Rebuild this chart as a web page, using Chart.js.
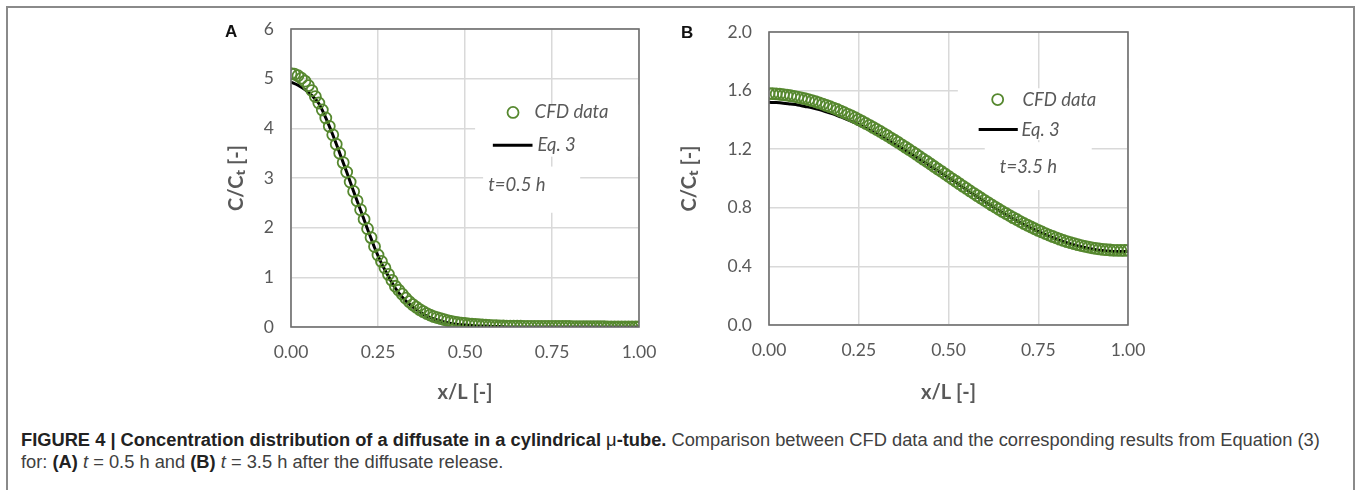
<!DOCTYPE html>
<html>
<head>
<meta charset="utf-8">
<script src="https://cdn.jsdelivr.net/npm/chart.js@4.4.1/dist/chart.umd.min.js"></script>
<style>
  html, body { margin: 0; padding: 0; background: #fff; }
  body { width: 1357px; height: 490px; position: relative; overflow: hidden; }
  #frame { position: absolute; left: 6px; top: 6px; width: 1349px; height: 600px; border: 2px solid #8a8a8a; box-sizing: border-box; }
  .panel { position: absolute; top: 0; height: 410px; }
  #pA { left: 200px; width: 460px; }
  #pB { left: 660px; width: 490px; }
  .tag { position: absolute; font: bold 17px "Liberation Sans", Arial, sans-serif; color: #111; }
  #caption { position: absolute; left: 21px; top: 429px; font: 18.3px/22px "Liberation Sans", Arial, sans-serif; color: #404040; white-space: nowrap; }
  #caption b { color: #222; }
</style>
</head>
<body>
<div id="frame"></div>
<div class="panel" id="pA"><canvas id="cA"></canvas></div>
<div class="panel" id="pB"><canvas id="cB"></canvas></div>
<div class="tag" style="left:225px;top:22px;">A</div>
<div class="tag" style="left:681px;top:23px;">B</div>
<div id="caption"><b>FIGURE 4 | Concentration distribution of a diffusate in a cylindrical <span style="font-weight:normal">μ</span>-tube.</b> Comparison between CFD data and the corresponding results from Equation (3)<br>for: <b>(A)</b> <i>t</i> = 0.5 h and <b>(B)</b> <i>t</i> = 3.5 h after the diffusate release.</div>
<script>
// ---- data ----
const xCFD = [0,0.01,0.02,0.03,0.04,0.05,0.06,0.07,0.08,0.09,
  0.10,0.11,0.12,0.13,0.14,0.15,0.16,0.17,0.18,0.19,
  0.20,0.21,0.22,0.23,0.24,0.25,0.26,0.27,0.28,0.29,
  0.30,0.31,0.32,0.33,0.34,0.35,0.36,0.37,0.38,0.39,
  0.40,0.41,0.42,0.43,0.44,0.45,0.46,0.47,0.48,0.49,
  0.50,0.51,0.52,0.53,0.54,0.55,0.56,0.57,0.58,0.59,
  0.60,0.61,0.62,0.63,0.64,0.65,0.66,0.67,0.68,0.69,
  0.70,0.71,0.72,0.73,0.74,0.75,0.76,0.77,0.78,0.79,
  0.80,0.81,0.82,0.83,0.84,0.85,0.86,0.87,0.88,0.89,
  0.90,0.91,0.92,0.93,0.94,0.95,0.96,0.97,0.98,0.99,1.00];
const cfdA = [5.10,5.09,5.06,5.01,4.95,4.86,4.76,4.64,4.51,4.37,
  4.21,4.04,3.87,3.68,3.50,3.31,3.12,2.92,2.73,2.54,
  2.36,2.17,1.98,1.80,1.62,1.45,1.32,1.19,1.06,0.94,
  0.82,0.74,0.66,0.58,0.51,0.45,0.40,0.35,0.31,0.27,
  0.24,0.21,0.19,0.17,0.15,0.13,0.115,0.10,0.09,0.08,
  0.07,0.06,0.055,0.05,0.045,0.04,0.035,0.03,0.028,0.025,
  0.02,0.02,0.019,0.018,0.017,0.016,0.015,0.014,0.013,0.012,
  0.011,0.01,0.01,0.01,0.01,0.01,0.01,0.01,0.01,0.01,
  0.01,0.005,0.005,0.005,0.005,0.005,0.005,0.005,0.005,0.005,
  0.005,0,0,0,0,0,0,0,0,0,0];
const cfdB = [1.580,1.579,1.577,1.575,1.572,1.569,1.565,1.561,1.556,1.550,
  1.545,1.538,1.531,1.524,1.516,1.508,1.499,1.490,1.481,1.471,
  1.460,1.449,1.438,1.427,1.415,1.402,1.389,1.376,1.363,1.349,
  1.335,1.321,1.306,1.292,1.276,1.261,1.246,1.230,1.214,1.198,
  1.182,1.166,1.149,1.132,1.116,1.099,1.082,1.065,1.049,1.032,
  1.015,0.998,0.982,0.965,0.948,0.932,0.915,0.899,0.883,0.867,
  0.851,0.836,0.820,0.805,0.790,0.775,0.761,0.747,0.733,0.720,
  0.706,0.693,0.681,0.669,0.657,0.646,0.635,0.624,0.614,0.604,
  0.595,0.586,0.577,0.569,0.562,0.555,0.548,0.542,0.537,0.532,
  0.527,0.523,0.519,0.516,0.514,0.512,0.510,0.510,0.509,0.509,0.510];
const xEq = [0,0.02,0.04,0.06,0.08,0.10,0.12,0.14,0.16,0.18,
  0.20,0.22,0.24,0.26,0.28,0.30,0.32,0.34,0.36,0.38,
  0.40,0.42,0.44,0.46,0.48,0.50,0.52,0.54,0.56,0.58,
  0.60,0.62,0.64,0.66,0.68,0.70,0.72,0.74,0.76,0.78,
  0.80,0.82,0.84,0.86,0.88,0.90,0.92,0.94,0.96,0.98,1.00];
const eqA = [4.93,4.87,4.78,4.66,4.50,4.21,3.87,3.50,3.12,2.73,
  2.35,1.97,1.60,1.28,1.02,0.78,0.60,0.46,0.35,0.26,
  0.19,0.14,0.10,0.07,0.05,0.04,0.03,0.02,0.02,0.01,
  0.01,0,0,0,0,0,0,0,0,0,
  0,0,0,0,0,0,0,0,0,0,0];
const eqB = [1.520,1.518,1.514,1.508,1.502,1.492,1.482,1.470,1.455,1.439,
  1.420,1.400,1.379,1.355,1.331,1.305,1.278,1.250,1.222,1.192,
  1.162,1.131,1.100,1.068,1.037,1.005,0.974,0.940,0.907,0.875,
  0.843,0.812,0.782,0.753,0.725,0.698,0.673,0.649,0.627,0.606,
  0.587,0.569,0.554,0.540,0.529,0.519,0.511,0.506,0.502,0.501,0.502];
const xTicks = [0, 0.25, 0.5, 0.75, 1];
const yTicksA = [0, 1, 2, 3, 4, 5, 6];
const yTicksB = [0, 0.4, 0.8, 1.2, 1.6, 2.0];
const seriesNames = ['CFD data', 'Eq. 3'];
const timeLabels = ['t=0.5 h', 't=3.5 h'];

// ---- styles ----
const GREEN = '#56882f';
const GREY = '#595959';
const GRID = '#d9d9d9';
const TICKFONT = { family: 'Lato, "Open Sans", sans-serif', size: 17.5 };
const TITLEFONT = { family: 'Lato, "Open Sans", sans-serif', size: 20, weight: 'bold' };

const overlay = {
  id: 'overlay',
  beforeDatasetsDraw(chart, args, o) {
    const {ctx, scales: {x, y}} = chart;
    ctx.save();
    ctx.fillStyle = '#fff';
    for (const b of [o.legendBox, o.timeBox]) {
      const x0 = x.getPixelForValue(b[0]), x1 = x.getPixelForValue(b[1]);
      const y0 = y.getPixelForValue(b[2]), y1 = y.getPixelForValue(b[3]);
      ctx.fillRect(x0, y0, x1 - x0, y1 - y0);
    }
    ctx.restore();
  },
  afterDatasetsDraw(chart, args, o) {
    const {ctx, chartArea: a, scales: {x, y}} = chart;
    const ds = chart.data.datasets;
    ctx.save();
    ctx.strokeStyle = '#6e6e6e';
    ctx.lineWidth = 1.6;
    ctx.strokeRect(a.left, a.top, a.right - a.left, a.bottom - a.top);
    const mx = x.getPixelForValue(o.marker[0]), my = y.getPixelForValue(o.marker[1]);
    ctx.beginPath();
    ctx.arc(mx, my, ds[0].pointRadius, 0, Math.PI * 2);
    ctx.strokeStyle = ds[0].borderColor;
    ctx.lineWidth = ds[0].borderWidth;
    ctx.stroke();
    const lx0 = x.getPixelForValue(o.line[0]), lx1 = x.getPixelForValue(o.line[1]), ly = y.getPixelForValue(o.line[2]);
    ctx.beginPath();
    ctx.moveTo(lx0, ly); ctx.lineTo(lx1, ly);
    ctx.strokeStyle = ds[1].borderColor;
    ctx.lineWidth = ds[1].borderWidth;
    ctx.stroke();
    ctx.fillStyle = GREY;
    ctx.font = 'italic 18.5px Lato, "Open Sans", sans-serif';
    ctx.textBaseline = 'middle';
    ctx.textAlign = 'left';
    ctx.fillText(ds[0].label, x.getPixelForValue(o.text1[0]), y.getPixelForValue(o.text1[1]));
    ctx.fillText(ds[1].label, x.getPixelForValue(o.text2[0]), y.getPixelForValue(o.text2[1]));
    ctx.fillText(o.time, x.getPixelForValue(o.text3[0]), y.getPixelForValue(o.text3[1]));
    ctx.restore();
  }
};

function makeChart(id, cfd, eq, yTicks, yMax, yDec, yWidth, yTitlePad, ov, padRight, padTop, xH) {
  return new Chart(document.getElementById(id), {
    type: 'scatter',
    data: {
      datasets: [
        { label: seriesNames[0], data: xCFD.map((v, i) => ({x: v, y: cfd[i]})),
          pointStyle: 'circle', pointRadius: 5.5, borderWidth: 1.8, borderColor: GREEN,
          backgroundColor: 'rgba(0,0,0,0)', showLine: false, order: 1 },
        { label: seriesNames[1], data: xEq.map((v, i) => ({x: v, y: eq[i]})),
          showLine: true, pointRadius: 0, borderColor: '#000', borderWidth: 3,
          cubicInterpolationMode: 'monotone', order: 2 }
      ]
    },
    options: {
      responsive: true, maintainAspectRatio: false, animation: false,
      layout: { padding: { left: 0, right: padRight, top: padTop, bottom: 0 } },
      plugins: { legend: { display: false }, tooltip: { enabled: false }, overlay: ov },
      scales: {
        x: {
          type: 'linear', min: 0, max: 1,
          afterBuildTicks: s => { s.ticks = xTicks.map(v => ({value: v})); },
          afterFit: s => { s.height = xH; s.paddingLeft = 0; s.paddingRight = 0; },
          grid: { color: GRID, lineWidth: 1.5, drawTicks: false },
          border: { display: false },
          ticks: { color: GREY, font: TICKFONT, padding: 15, maxRotation: 0,
                   callback: v => Number(v).toFixed(2) },
          title: { display: true, text: 'x/L [-]', color: GREY, font: TITLEFONT, padding: { top: 0, bottom: 5 } }
        },
        y: {
          type: 'linear', min: 0, max: yMax,
          afterBuildTicks: s => { s.ticks = yTicks.map(v => ({value: v})); },
          afterFit: s => { s.width = yWidth; s.paddingTop = 0; s.paddingBottom = 0; },
          grid: { color: GRID, lineWidth: 1.5, drawTicks: false },
          border: { display: false },
          ticks: { color: GREY, font: TICKFONT, padding: 17,
                   callback: v => Number(v).toFixed(yDec) },
          title: { display: true, text: 'C/Cₜ [-]', color: GREY, font: TITLEFONT, padding: { top: yTitlePad, bottom: 0 } }
        }
      }
    },
    plugins: [overlay]
  });
}

makeChart('cA', cfdA, eqA, yTicksA, 6, 0, 91, 25, {
  legendBox: [0.529, 0.999, 4.48, 3.43], timeBox: [0.552, 0.831, 3.23, 2.30],
  marker: [0.638, 4.32], line: [0.58, 0.694, 3.66],
  text1: [0.70, 4.32], text2: [0.708, 3.66], text3: [0.567, 2.85], time: timeLabels[0]
}, 21, 29, 83);

makeChart('cB', cfdB, eqB, yTicksB, 2, 1, 109, 18, {
  legendBox: [0.526, 0.999, 1.616, 1.262], timeBox: [0.601, 0.899, 1.248, 0.921],
  marker: [0.637, 1.539], line: [0.584, 0.693, 1.334],
  text1: [0.706, 1.539], text2: [0.703, 1.334], text3: [0.643, 1.079], time: timeLabels[1]
}, 22, 32, 85);
</script>
</body>
</html>
